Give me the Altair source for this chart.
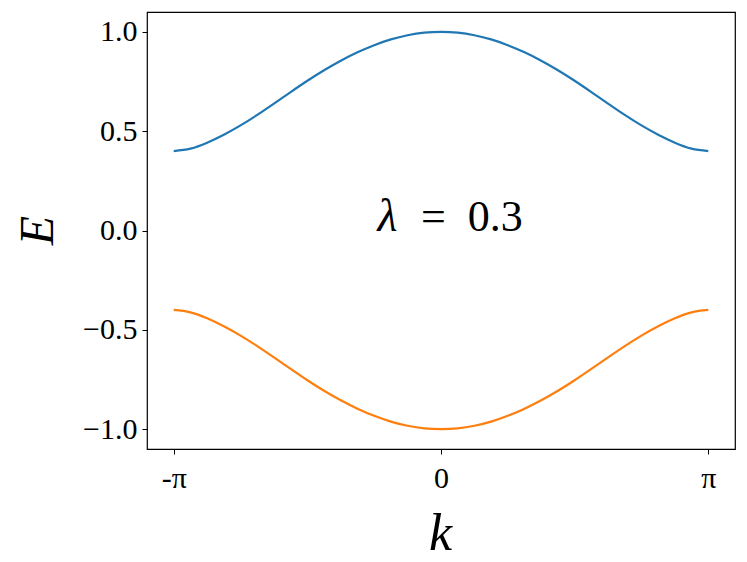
import altair as alt
import pandas as pd

# k in units of pi, upper band energy
k_pi = [-1.0, -0.9375, -0.875, -0.8125, -0.75, -0.6875, -0.625, -0.5625, -0.5,
        -0.4375, -0.375, -0.3125, -0.25, -0.1875, -0.125, -0.0625, 0.0,
        0.0625, 0.125, 0.1875, 0.25, 0.3125, 0.375, 0.4375, 0.5,
        0.5625, 0.625, 0.6875, 0.75, 0.8125, 0.875, 0.9375, 1.0]
upper = [0.400, 0.412, 0.442, 0.482, 0.529, 0.582, 0.639, 0.697, 0.754,
         0.807, 0.855, 0.897, 0.933, 0.962, 0.983, 0.996, 1.000,
         0.996, 0.983, 0.962, 0.933, 0.897, 0.855, 0.807, 0.754,
         0.697, 0.639, 0.582, 0.529, 0.482, 0.442, 0.412, 0.400]
lower = [-v for v in upper]

x_ticks = [-1, 0, 1]
x_tick_labels = ["-π", "0", "π"]
y_ticks = [-1.0, -0.5, 0.0, 0.5, 1.0]

df = pd.DataFrame({
    "k": k_pi + k_pi,
    "E": upper + lower,
    "band": ["upper"] * len(k_pi) + ["lower"] * len(k_pi),
})

FONT = "Liberation Serif"

x_scale = alt.Scale(domain=[-1.1, 1.1], nice=False, zero=False)
y_scale = alt.Scale(domain=[-1.1, 1.1], nice=False, zero=False)

label_expr = ("datum.value < -0.5 ? '" + x_tick_labels[0] + "' : (datum.value > 0.5 ? '"
              + x_tick_labels[2] + "' : '" + x_tick_labels[1] + "')")

lines = alt.Chart(df).mark_line(strokeWidth=2.2, interpolate="natural").encode(
    x=alt.X("k:Q", scale=x_scale,
            axis=alt.Axis(values=x_ticks, labelExpr=label_expr, title="k",
                          titleFontStyle="italic", titleFontWeight="normal",
                          titleFontSize=52, titleFont=FONT,
                          titleX=293, titleY=100, titleBaseline="alphabetic",
                          labelFontSize=30, labelFont=FONT, labelPadding=9,
                          tickSize=5, grid=False, domain=False,
                          tickColor="#000", labelColor="#000", titleColor="#000")),
    y=alt.Y("E:Q", scale=y_scale,
            axis=alt.Axis(values=y_ticks,
                          labelExpr="replace(format(datum.value, '.1f'), '-', '−')",
                          title="E", titleFontStyle="italic", titleFontWeight="normal",
                          titleFontSize=48, titleFont=FONT, titleAngle=-90,
                          titleX=-95, titleY=218, titleAlign="center", titleBaseline="alphabetic",
                          labelFontSize=30, labelFont=FONT, labelPadding=5,
                          tickSize=5, grid=False, domain=False,
                          tickColor="#000", labelColor="#000", titleColor="#000")),
    color=alt.Color("band:N", scale=alt.Scale(domain=["upper", "lower"],
                                              range=["#1f77b4", "#ff7f0e"]), legend=None),
    detail="band:N",
)

lam_df = pd.DataFrame({"k": [-0.2], "E": [0.0], "t": ["λ"]})
eq_df = pd.DataFrame({"k": [-0.075], "E": [0.0], "t": ["=\u00a0\u00a00.3"]})

lam = alt.Chart(lam_df).mark_text(font=FONT, fontSize=46, fontStyle="italic",
                                  align="center", baseline="alphabetic", color="#000").encode(
    x=alt.X("k:Q", scale=x_scale), y=alt.Y("E:Q", scale=y_scale), text="t:N")
eq = alt.Chart(eq_df).mark_text(font=FONT, fontSize=44,
                                align="left", baseline="alphabetic", color="#000").encode(
    x=alt.X("k:Q", scale=x_scale), y=alt.Y("E:Q", scale=y_scale), text="t:N")

chart = alt.layer(lines, lam, eq).properties(
    width=588, height=437,
    autosize=alt.AutoSizeParams(type="none"),
    padding={"left": 139, "top": 4, "right": 4, "bottom": 112},
).configure_view(stroke="#000", strokeWidth=1.2)

chart.save("out.html", embed_options={"renderer": "svg", "actions": False})
